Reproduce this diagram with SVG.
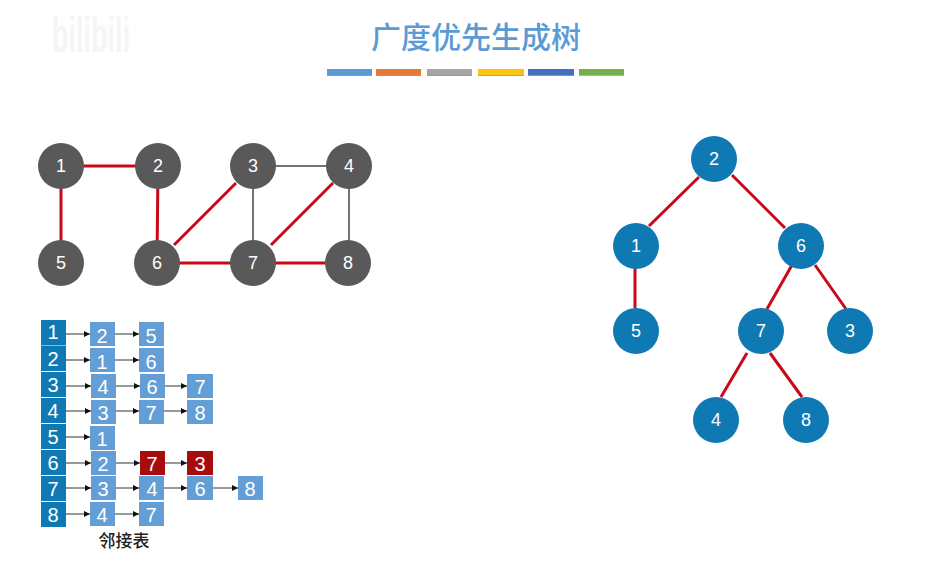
<svg xmlns="http://www.w3.org/2000/svg" width="943" height="562" viewBox="0 0 943 562">
<style>
text{font-family:"Liberation Sans","Noto Sans CJK SC",sans-serif;text-anchor:middle}
.title{font-family:"Noto Sans CJK SC",sans-serif;font-size:30px;font-weight:500;fill:#5b9bd5}
.wm{font-size:50px;font-weight:700;fill:#f5f5f5}
.g circle{fill:#595959}
.t circle{fill:#0f79b4}
.node text{font-size:18px;fill:#fff}
.r{stroke:#c70a1a;stroke-width:3;fill:none}
.k{stroke:#44474d;stroke-width:1.5;fill:none}
.a{stroke:#333;stroke-width:1;fill:none;marker-end:url(#ah)}
.h rect{fill:#0f79b4}
.c rect{fill:#649ed6}
.c .x rect{fill:#a80d0d}
.cell text{font-size:20px;fill:#fff}
.cap{font-family:"Noto Sans CJK SC",sans-serif;font-size:17px;font-weight:500;fill:#222}
</style>
<defs>
<marker id="ah" markerWidth="7" markerHeight="6" refX="6" refY="3" orient="auto" markerUnits="userSpaceOnUse"><path d="M0,0L6,3L0,6z" fill="#111"/></marker>
</defs>
<text class="wm" x="91" y="52" textLength="78" lengthAdjust="spacingAndGlyphs">bilibili</text>
<text class="title" x="476" y="48">广度优先生成树</text>
<g id="title-bars">
<rect x="327" y="71" width="45" height="5" fill="#999"/><rect x="376" y="71" width="45" height="5" fill="#999"/><rect x="427" y="71" width="45" height="5" fill="#999"/><rect x="478" y="71" width="46" height="5" fill="#b5a878"/><rect x="528" y="71" width="46" height="5" fill="#8a93a8"/><rect x="579" y="71" width="45" height="5" fill="#a5bf95"/>
<rect x="327" y="69" width="45" height="6" fill="#5b9bd5"/><rect x="376" y="69" width="45" height="6" fill="#e07b3a"/><rect x="427" y="69" width="45" height="6" fill="#a5a5a5"/><rect x="478" y="69" width="46" height="6" fill="#fcc30f"/><rect x="528" y="69" width="46" height="6" fill="#4470c0"/><rect x="579" y="69" width="45" height="6" fill="#71b04a"/>
</g>
<g id="connectors">
<path class="k" d="M253,166H349M253,166V263M349,166V263"/>
<path class="r" d="M61,166H158M61,166V263M158,166L157,263M236,183L174,245M157,263H348M333,183L271,245"/>
<path class="r" d="M699,177L649,226M732,175L785,228M635,268V308M792,265L767,309M815,265L846,309M747,353L721,397M770,353L802,397"/>
<path class="a" d="M66,334H90"/><path class="a" d="M115,334H139"/>
<path class="a" d="M66,360H90"/><path class="a" d="M115,360H139"/>
<path class="a" d="M66,386H91"/><path class="a" d="M116,386H140"/><path class="a" d="M165,386H187"/>
<path class="a" d="M66,411H91"/><path class="a" d="M116,411H139"/><path class="a" d="M164,411H187"/>
<path class="a" d="M66,437H90"/>
<path class="a" d="M66,463H91"/><path class="a" d="M116,463H140"/><path class="a" d="M165,463H187"/>
<path class="a" d="M66,488H91"/><path class="a" d="M116,488H139"/><path class="a" d="M164,488H187"/><path class="a" d="M213,488H238"/>
<path class="a" d="M66,514H90"/><path class="a" d="M115,514H139"/>
</g>
<g id="graph" class="g">
<g id="g1" class="node"><circle cx="61" cy="166" r="23"/><text x="61" y="172">1</text></g>
<g id="g2" class="node"><circle cx="158" cy="166" r="23"/><text x="158" y="172">2</text></g>
<g id="g3" class="node"><circle cx="253" cy="166" r="23"/><text x="253" y="172">3</text></g>
<g id="g4" class="node"><circle cx="349" cy="166" r="23"/><text x="349" y="172">4</text></g>
<g id="g5" class="node"><circle cx="61" cy="263" r="23"/><text x="61" y="269">5</text></g>
<g id="g6" class="node"><circle cx="157" cy="263" r="23"/><text x="157" y="269">6</text></g>
<g id="g7" class="node"><circle cx="253" cy="263" r="23"/><text x="253" y="269">7</text></g>
<g id="g8" class="node"><circle cx="348" cy="263" r="23"/><text x="348" y="269">8</text></g>
</g>
<g id="tree" class="t">
<g id="t2" class="node"><circle cx="714" cy="159" r="23"/><text x="714" y="165">2</text></g>
<g id="t1" class="node"><circle cx="636" cy="246" r="23"/><text x="636" y="252">1</text></g>
<g id="t6" class="node"><circle cx="801" cy="246" r="23"/><text x="801" y="252">6</text></g>
<g id="t5" class="node"><circle cx="636" cy="331" r="23"/><text x="636" y="337">5</text></g>
<g id="t7" class="node"><circle cx="761" cy="331" r="23"/><text x="761" y="337">7</text></g>
<g id="t3" class="node"><circle cx="850" cy="331" r="23"/><text x="850" y="337">3</text></g>
<g id="t4" class="node"><circle cx="716" cy="420" r="23"/><text x="716" y="426">4</text></g>
<g id="t8" class="node"><circle cx="806" cy="420" r="23"/><text x="806" y="426">8</text></g>
</g>
<g id="list-head" class="h">
<g id="h1" class="cell"><rect x="41" y="320" width="25" height="25.5"/><text x="53" y="339">1</text></g>
<g id="h2" class="cell"><rect x="41" y="346" width="25" height="25"/><text x="53" y="366">2</text></g>
<g id="h3" class="cell"><rect x="41" y="372" width="25" height="25"/><text x="53" y="392">3</text></g>
<g id="h4" class="cell"><rect x="41" y="398" width="25" height="25"/><text x="53" y="418">4</text></g>
<g id="h5" class="cell"><rect x="41" y="424" width="25" height="25"/><text x="53" y="444">5</text></g>
<g id="h6" class="cell"><rect x="41" y="450" width="25" height="25"/><text x="53" y="470">6</text></g>
<g id="h7" class="cell"><rect x="41" y="476" width="25" height="25"/><text x="53" y="496">7</text></g>
<g id="h8" class="cell"><rect x="41" y="502" width="25" height="25"/><text x="53" y="522">8</text></g>
</g>
<g id="list-cells" class="c">
<g class="cell" id="c12"><rect x="90" y="322" width="25" height="24"/><text x="102" y="343">2</text></g>
<g class="cell" id="c15"><rect x="139" y="322" width="25" height="24"/><text x="151" y="343">5</text></g>
<g class="cell" id="c21"><rect x="90" y="348" width="25" height="24"/><text x="102" y="369">1</text></g>
<g class="cell" id="c26"><rect x="139" y="348" width="25" height="24"/><text x="151" y="369">6</text></g>
<g class="cell" id="c34"><rect x="91" y="374" width="25" height="24"/><text x="103" y="394">4</text></g>
<g class="cell" id="c36"><rect x="140" y="374" width="25" height="24"/><text x="152" y="394">6</text></g>
<g class="cell" id="c37"><rect x="187" y="374" width="26" height="24"/><text x="200" y="394">7</text></g>
<g class="cell" id="c43"><rect x="91" y="400" width="25" height="24"/><text x="103" y="420">3</text></g>
<g class="cell" id="c47"><rect x="139" y="400" width="25" height="24"/><text x="151" y="420">7</text></g>
<g class="cell" id="c48"><rect x="187" y="400" width="26" height="24"/><text x="200" y="420">8</text></g>
<g class="cell" id="c51"><rect x="90" y="426" width="25" height="24"/><text x="102" y="446">1</text></g>
<g class="cell" id="c62"><rect x="91" y="451" width="25" height="24"/><text x="103" y="471">2</text></g>
<g class="cell x" id="c67"><rect x="140" y="451" width="25" height="24"/><text x="152" y="471">7</text></g>
<g class="cell x" id="c63"><rect x="187" y="451" width="26" height="24"/><text x="200" y="471">3</text></g>
<g class="cell" id="c73"><rect x="91" y="476" width="25" height="24"/><text x="103" y="496">3</text></g>
<g class="cell" id="c74"><rect x="139" y="476" width="25" height="24"/><text x="152" y="496">4</text></g>
<g class="cell" id="c76"><rect x="187" y="476" width="26" height="24"/><text x="200" y="496">6</text></g>
<g class="cell" id="c78"><rect x="238" y="476" width="25" height="24"/><text x="250" y="496">8</text></g>
<g class="cell" id="c84"><rect x="90" y="502" width="25" height="24"/><text x="102" y="522">4</text></g>
<g class="cell" id="c87"><rect x="139" y="502" width="25" height="24"/><text x="151" y="522">7</text></g>
</g>
<text class="cap" x="124" y="547">邻接表</text>
</svg>
